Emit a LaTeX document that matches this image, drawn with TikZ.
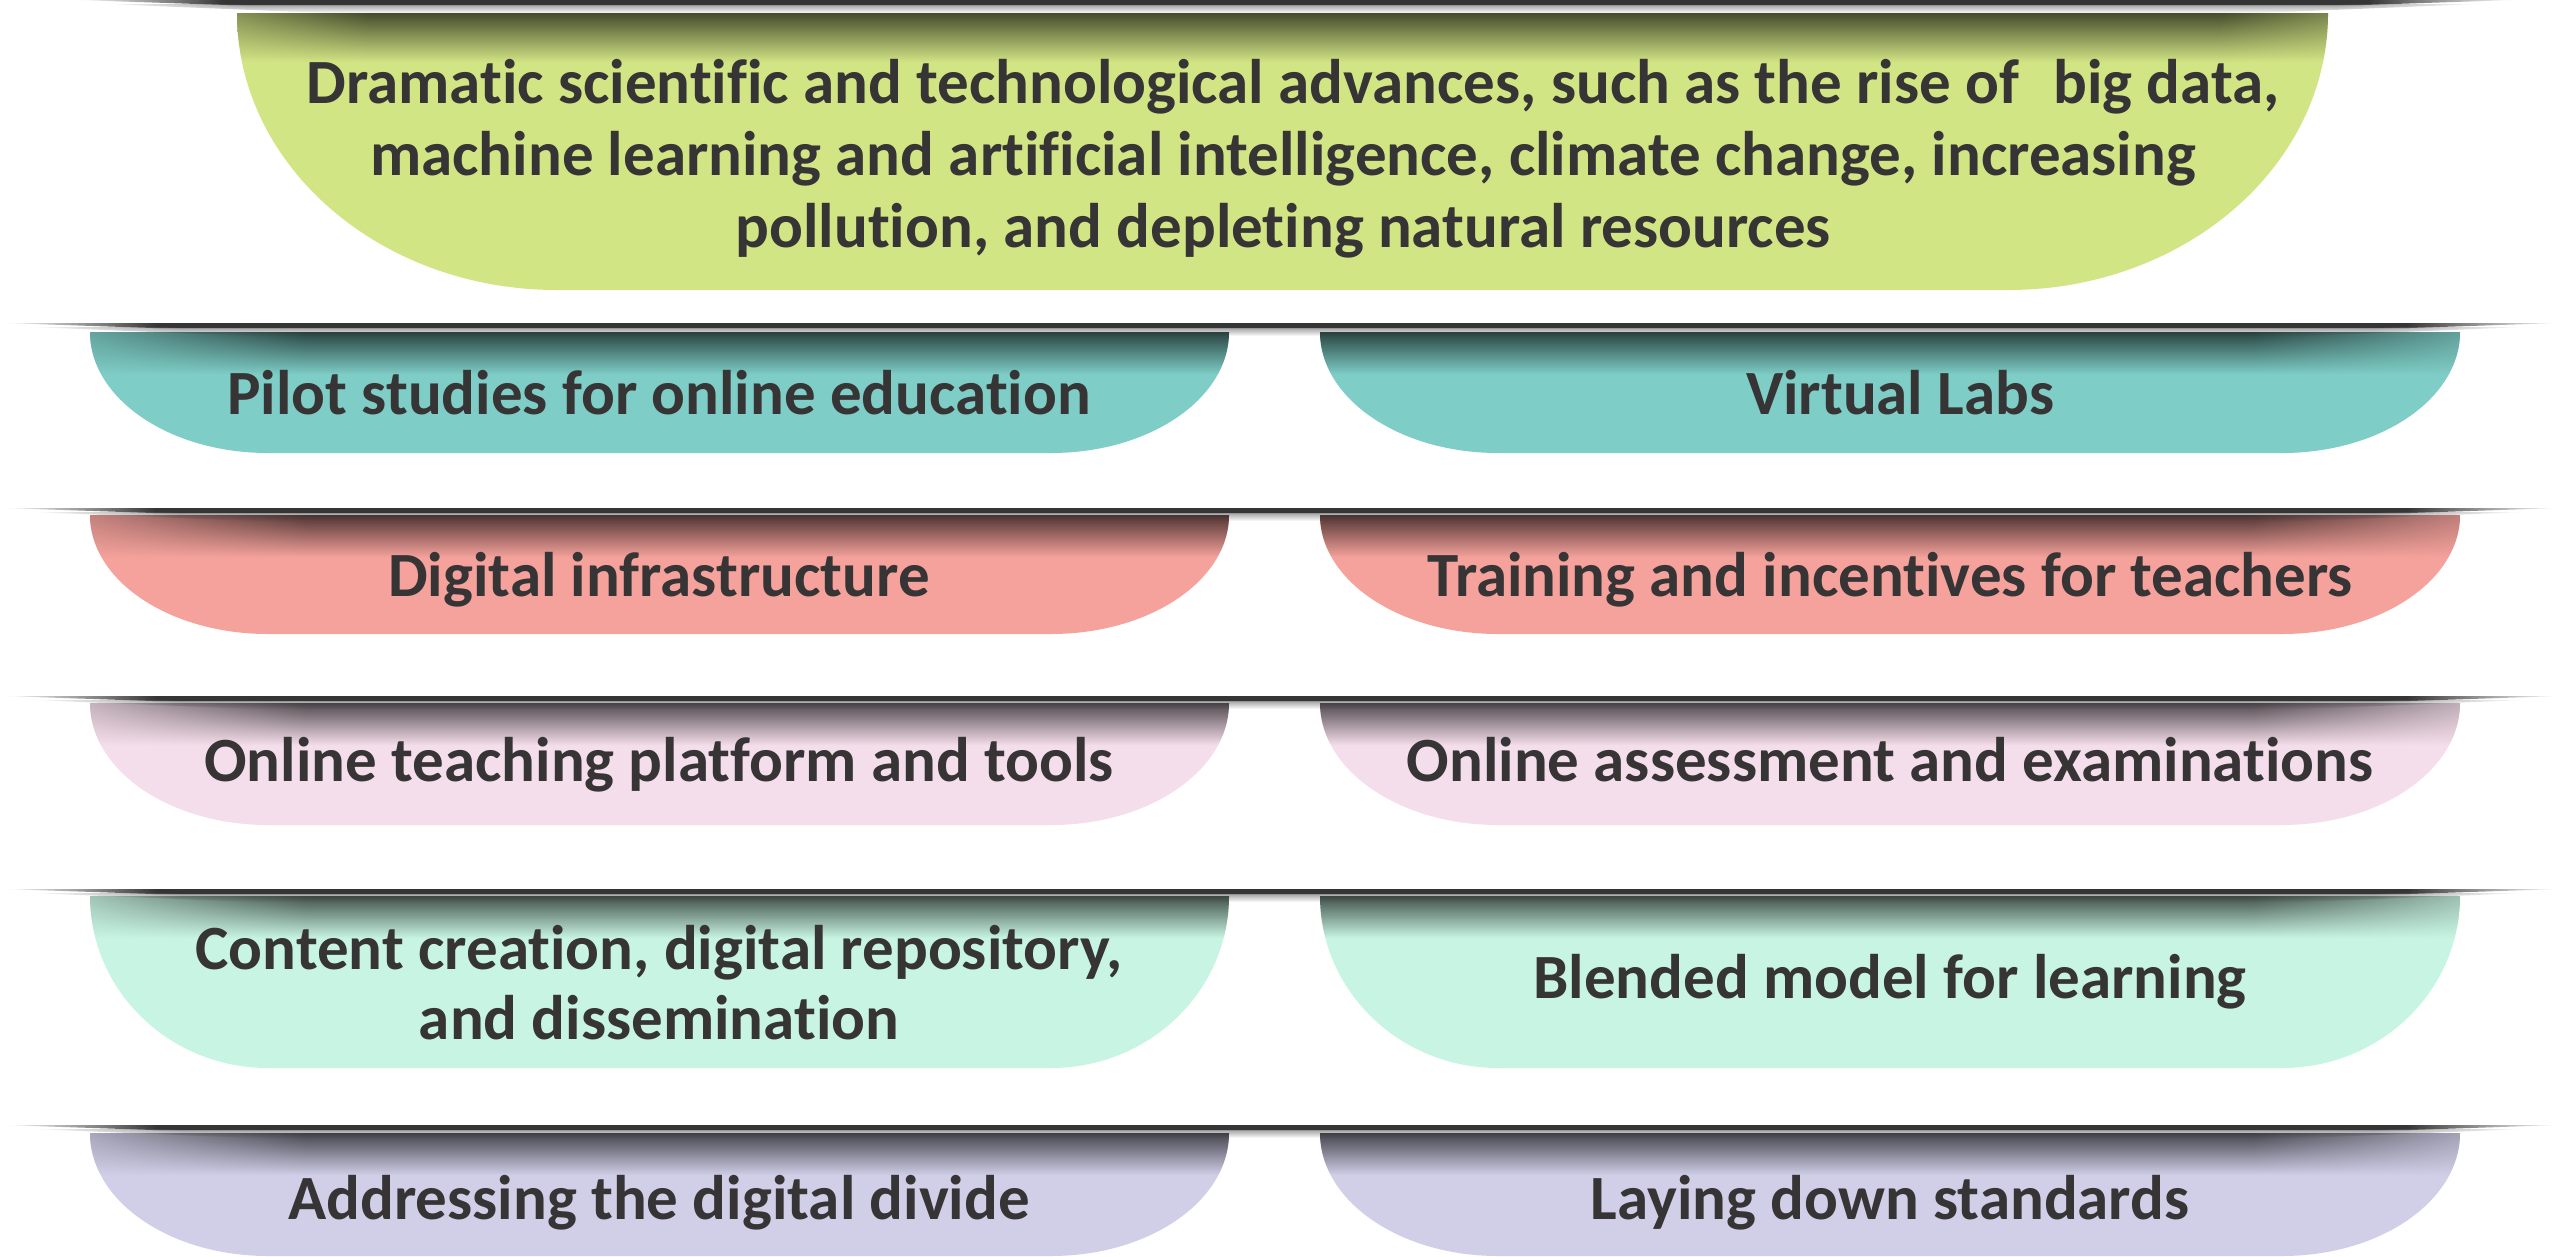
\documentclass[tikz,border=0pt]{standalone}
\usepackage{fontspec}
\setmainfont{Carlito}[Ligatures={NoCommon}]
\usetikzlibrary{fadings}
\definecolor{cgreen}{HTML}{D2E585}
\definecolor{cteal}{HTML}{7ECDC6}
\definecolor{csalmon}{HTML}{F5A29C}
\definecolor{cpink}{HTML}{F5DEEB}
\definecolor{cmint}{HTML}{C8F5E3}
\definecolor{clav}{HTML}{D1CFE8}
\definecolor{ctext}{HTML}{373435}
\definecolor{cbar}{HTML}{353535}
\colorlet{shA}{white}
\colorlet{shB}{black}
\pgfdeclarehorizontalshading[shA,shB]{rowshade}{100bp}{color(0bp)=(shA); color(25bp)=(shA); color(31bp)=(shB); color(69bp)=(shB); color(75bp)=(shA); color(100bp)=(shA)}
\pgfdeclarehorizontalshading{barshade}{100bp}{color(0bp)=(white); color(25bp)=(white); color(28bp)=(cbar); color(72bp)=(cbar); color(75bp)=(white); color(100bp)=(white)}
\tikzfading[name=shfade, top color=transparent!0, bottom color=transparent!100]
\newcommand{\tabpath}[5]{(#1,#2) -- (#3,#2) arc[start angle=0,end angle=90,x radius=#5,y radius={#4-#2}] -- ({#1+#5},#4) arc[start angle=90,end angle=180,x radius=#5,y radius={#4-#2}] -- cycle}
\newcommand{\shelfbar}[3]{%
  \shade[shading=barshade] (#1,#3) -- (#2,#3) -- ({#2-150},{#3+5}) -- ({#1+150},{#3+5}) -- cycle;
  \shade[shading=barshade, path fading=shfade, opacity=0.5] ({#1+30},{#3+4}) -- ({#2-30},{#3+4}) -- ({#2-250},{#3+13}) -- ({#1+250},{#3+13}) -- cycle;
}
\newcommand{\tabrow}[4]{% bar y, top, bottom, colour
  \fill[#4] \tabpath{90}{#2}{1229}{#3}{178};
  \fill[#4] \tabpath{1320}{#2}{2460}{#3}{178};
  \begin{scope}
    \clip \tabpath{90}{#2}{1229}{#3}{178} \tabpath{1320}{#2}{2460}{#3}{178};
    \colorlet{shA}{#4}\colorlet{shB}{#4!33!black}
    \shade[shading=rowshade, path fading=shfade] (0,#2) rectangle (2562,{#2+42});
  \end{scope}
  \shelfbar{3}{2560}{#1}
}
\begin{document}
\begin{tikzpicture}[x=1pt,y=-1pt,
  txt/.style={text=ctext, font=\fontsize{63}{72}\selectfont\bfseries, inner sep=0pt, anchor=base}]
\useasboundingbox (0,0) rectangle (2562,1256);
\fill[white] (0,0) rectangle (2562,1256);
% top green tab
\fill[cgreen] \tabpath{237}{13}{2328}{290}{320};
\begin{scope}
  \clip \tabpath{237}{13}{2328}{290}{320};
  \colorlet{shA}{cgreen}\colorlet{shB}{cgreen!33!black}
  \shade[shading=rowshade, path fading=shfade] (77,13) rectangle (2514,62);
\end{scope}
\shelfbar{77}{2514}{0}
% rows
\tabrow{323}{332}{453}{cteal}
\tabrow{508}{515}{634}{csalmon}
\tabrow{696}{703}{825}{cpink}
\tabrow{889}{896}{1068}{cmint}
\tabrow{1125}{1133}{1256}{clav}
% texts
\node[txt] (t0a) at (1293,103) {Dramatic scientific and technological advances, such as the rise of\hspace{34pt}big data,};
\node[txt] (t0b) at (1283,175) {machine learning and artificial intelligence, climate change, increasing};
\node[txt] (t0c) at (1283,247) {pollution, and depleting natural resources};
\node[txt] (t1l) at (659,414) {Pilot studies for online education};
\node[txt] (t1r) at (1900,414) {Virtual Labs};
\node[txt] (t2l) at (659,596) {Digital infrastructure};
\node[txt] (t2r) at (1890,596) {Training and incentives for teachers};
\node[txt] (t3l) at (659,781) {Online teaching platform and tools};
\node[txt] (t3r) at (1890,781) {Online assessment and examinations};
\node[txt] (t4la) at (659,969) {Content creation, digital repository,};
\node[txt] (t4lb) at (659,1039) {and dissemination};
\node[txt] (t4r) at (1890,998) {Blended model for learning};
\node[txt] (t5l) at (659,1219) {Addressing the digital divide};
\node[txt] (t5r) at (1890,1219) {Laying down standards};
\end{tikzpicture}
\end{document}
